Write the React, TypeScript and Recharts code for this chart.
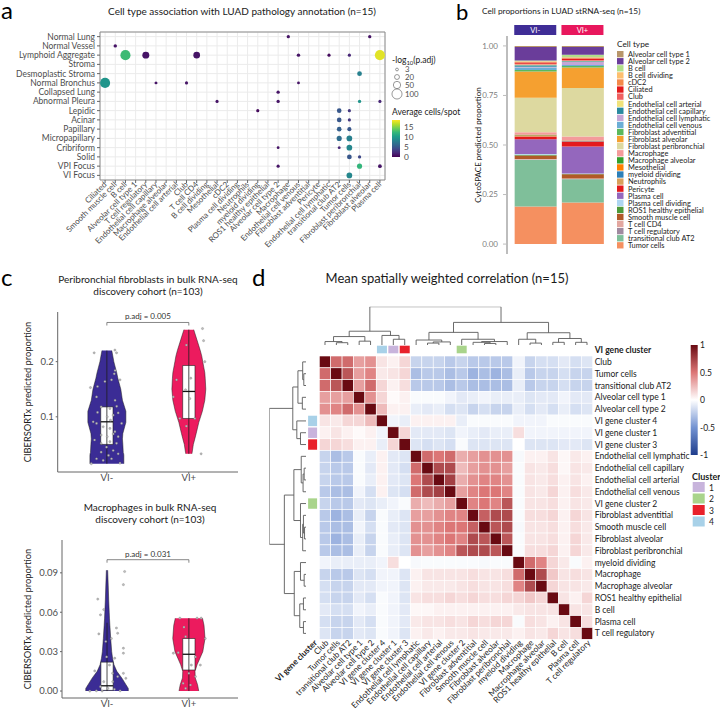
import React from "react";
import {
  ScatterChart, Scatter, XAxis, YAxis, ZAxis, CartesianGrid, Cell,
  ReferenceArea, ReferenceLine, BarChart, Bar, ComposedChart, Area,
} from "recharts";

const FONT = "Lato, 'Open Sans', sans-serif";
const AXIS_TEXT = "#4d4d4d";

const seq = (a: number, b: number) => Array.from({ length: b - a + 1 }, (_, i) => a + i);

function mix(stops: [number, string][], t: number) {
  const v = Math.max(stops[0][0], Math.min(stops[stops.length - 1][0], t));
  let k = 0;
  while (k < stops.length - 2 && v > stops[k + 1][0]) k++;
  const [t0, c0] = stops[k];
  const [t1, c1] = stops[k + 1];
  const f = (v - t0) / (t1 - t0);
  const a = parseInt(c0.slice(1), 16), b = parseInt(c1.slice(1), 16);
  const ch = (s: number) => Math.round(((a >> s) & 255) * (1 - f) + ((b >> s) & 255) * f);
  return `rgb(${ch(16)},${ch(8)},${ch(0)})`;
}
const VIRIDIS: [number, string][] = ["#440154", "#482878", "#3e4989", "#31688e", "#26828e", "#1f9e89", "#35b779", "#6ece58", "#b5de2b", "#fde725"]
  .map((c, i, arr) => [i / (arr.length - 1), c] as [number, string]);
const viridis = (t: number) => mix(VIRIDIS, t);
const CORR_STOPS: [number, string][] = [[-1, "#1f3d8c"], [-0.5, "#7393d2"], [0, "#ffffff"], [0.5, "#dc7676"], [1, "#690a12"]];
const corrColor = (v: number) => mix(CORR_STOPS, v);

// ---------- a: pathology annotation bubbles ----------
const A_ROWS = ["Normal Lung", "Normal Vessel", "Lymphoid Aggregate", "Stroma", "Desmoplastic Stroma", "Normal Bronchus",
  "Collapsed Lung", "Abnormal Pleura", "Lepidic", "Acinar", "Papillary", "Micropapillary", "Cribriform", "Solid", "VPI Focus", "VI Focus"];
const A_COLS = ["Ciliated", "Smooth muscle cell", "B cell", "Alveolar cell type 1", "T cell regulatory", "Endothelial cell capillary",
  "Macrophage alveolar", "Endothelial cell arterial", "Club", "T cell CD4", "B cell dividing", "Mesothelial", "cDC2",
  "Plasma cell dividing", "Neutrophils", "myeloid dividing", "ROS1  healthy epithelial", "Alveolar cell type 2", "Macrophage",
  "Endothelial cell venous", "Fibroblast adventitial", "Pericyte", "Endothelial cell lymphatic", "transitional club AT2",
  "Tumor cells", "Fibroblast peribronchial", "Fibroblast alveolar", "Plasma cell"];
// [annotation, cell type, -log10(p.adj), average cells/spot]
const A_POINTS: [string, string, number, number][] = [
  ["Normal Lung", "Macrophage", 6, 1], ["Normal Lung", "Fibroblast alveolar", 6, 1],
  ["Normal Vessel", "Smooth muscle cell", 7, 1],
  ["Lymphoid Aggregate", "B cell", 100, 12.5], ["Lymphoid Aggregate", "T cell regulatory", 45, 1],
  ["Lymphoid Aggregate", "T cell CD4", 40, 1], ["Lymphoid Aggregate", "Endothelial cell venous", 7, 1],
  ["Lymphoid Aggregate", "Endothelial cell lymphatic", 5, 0.5], ["Lymphoid Aggregate", "Tumor cells", 5, 2],
  ["Lymphoid Aggregate", "Plasma cell", 100, 17.5],
  ["Desmoplastic Stroma", "Fibroblast peribronchial", 18, 8],
  ["Normal Bronchus", "Ciliated", 100, 9.5], ["Normal Bronchus", "Endothelial cell capillary", 4, 1],
  ["Normal Bronchus", "Club", 5, 1], ["Normal Bronchus", "Endothelial cell venous", 3, 1],
  ["Collapsed Lung", "Alveolar cell type 2", 6, 1],
  ["Abnormal Pleura", "Mesothelial", 5, 1], ["Abnormal Pleura", "Alveolar cell type 2", 6, 1],
  ["Abnormal Pleura", "Fibroblast peribronchial", 6, 9.5], ["Abnormal Pleura", "Plasma cell", 5, 2],
  ["Lepidic", "myeloid dividing", 5, 0.5], ["Lepidic", "transitional club AT2", 17, 5], ["Lepidic", "Tumor cells", 5, 3],
  ["Acinar", "transitional club AT2", 17, 5], ["Acinar", "Tumor cells", 5, 3],
  ["Papillary", "transitional club AT2", 17, 5.5], ["Papillary", "Tumor cells", 12, 5],
  ["Micropapillary", "transitional club AT2", 22, 6.5], ["Micropapillary", "Tumor cells", 28, 8],
  ["Cribriform", "Alveolar cell type 2", 3, 1], ["Cribriform", "transitional club AT2", 4, 2], ["Cribriform", "Tumor cells", 28, 8.5],
  ["Solid", "Tumor cells", 18, 5], ["Solid", "Fibroblast peribronchial", 6, 4],
  ["VPI Focus", "Alveolar cell type 2", 5, 1], ["VPI Focus", "Fibroblast peribronchial", 22, 12], ["VPI Focus", "Plasma cell", 9, 1],
  ["VI Focus", "Tumor cells", 28, 8.5],
];
const A_SIZE_KEYS = [3, 20, 50, 100];
const A_COLOR_KEYS = [0, 5, 10, 15];
const A_AVG_MAX = 18.3;
const A_AREA: [number, number] = [4, 80];

// ---------- b: stacked proportions ----------
const B_GROUPS = ["VI-", "VI+"];
const B_STRIP = ["#3f2d96", "#e8175d"];
const B_TYPES = ["Alveolar cell type 1", "Alveolar cell type 2", "B cell", "B cell dividing", "cDC2", "Ciliated", "Club",
  "Endothelial cell arterial", "Endothelial cell capillary", "Endothelial cell lymphatic", "Endothelial cell venous",
  "Fibroblast adventitial", "Fibroblast alveolar", "Fibroblast peribronchial", "Macrophage", "Macrophage alveolar",
  "Mesothelial", "myeloid dividing", "Neutrophils", "Pericyte", "Plasma cell", "Plasma cell dividing",
  "ROS1  healthy epithelial", "Smooth muscle cell", "T cell CD4", "T cell regulatory", "transitional club AT2", "Tumor cells"];
const B_COLORS = ["#b8966a", "#6a3d9a", "#b2df8a", "#fdbf6f", "#f4894a", "#e31a1c", "#f06060", "#f0e27a", "#2a8aa0",
  "#c5a6d6", "#6baed6", "#5cb85c", "#f5a030", "#ddd9a0", "#f49b9b", "#33a02c", "#ff7f00", "#2c7fb8", "#d9a05b",
  "#e41a1c", "#9467bd", "#aed6f1", "#4d9a3a", "#b15928", "#e3a7a0", "#a08aa0", "#7fbf9a", "#f59060"];
const B_VI_NEG = [0.005, 0.068, 0.005, 0.002, 0.004, 0.006, 0.004, 0.003, 0.008, 0.004, 0.012, 0.008, 0.133, 0.174,
  0.012, 0.003, 0.002, 0.002, 0.002, 0.014, 0.075, 0.003, 0.004, 0.018, 0.002, 0.002, 0.235, 0.19];
const B_VI_POS = [0.005, 0.04, 0.012, 0.002, 0.004, 0.008, 0.004, 0.002, 0.004, 0.015, 0.005, 0.008, 0.104, 0.244,
  0.02, 0.002, 0.001, 0.001, 0.001, 0.025, 0.137, 0.002, 0.002, 0.021, 0.002, 0.002, 0.117, 0.21];
const B_TICKS = [0, 0.25, 0.5, 0.75, 1];

// ---------- c: violins ----------
const C_GROUPS = ["VI-", "VI+"];
const C_COLORS = ["#3b2c95", "#ec1b5e"];
const PERI_LEVELS = [0.015, 0.02, 0.03, 0.033, 0.035, 0.05, 0.06, 0.07, 0.09, 0.11, 0.13, 0.15, 0.17, 0.18, 0.2, 0.21, 0.22, 0.24, 0.258];
const PERI_NEG = [0.207, 0.207, 0.207, 0.205, 0.2, 0.195, 0.19, 0.195, 0.232, 0.232, 0.19, 0.17, 0.134, 0.12, 0.085, 0.073, 0.06, null, null];
const PERI_POS = [null, null, null, 0.037, 0.04, 0.055, 0.073, 0.09, 0.122, 0.165, 0.195, 0.207, 0.2, 0.195, 0.17, 0.158, 0.14, 0.098, 0.06];
const PERI_STATS = [
  { lo: 0.015, q1: 0.05, med: 0.091, q3: 0.118, hi: 0.22 },
  { lo: 0.033, q1: 0.097, med: 0.146, q3: 0.193, hi: 0.258 },
];
const PERI_POINTS: [number, number][] = [
  [0.845, 0.216], [1.098, 0.221], [1.118, 0.216], [0.8, 0.153], [0.886, 0.155], [1.1, 0.184], [1.09, 0.178], [0.976, 0.164],
  [1.057, 0.167], [0.874, 0.136], [1.1, 0.13], [1.037, 0.115], [1.12, 0.119], [1.077, 0.103], [1.004, 0.1], [1.044, 0.094],
  [1.138, 0.107], [0.886, 0.108], [0.955, 0.082], [1.037, 0.079], [1.098, 0.073], [1.077, 0.069], [1.004, 0.064], [0.93, 0.067],
  [1.138, 0.064], [0.85, 0.058], [1.037, 0.055], [1.118, 0.052], [0.996, 0.045], [1.077, 0.039], [0.93, 0.036], [1.138, 0.033],
  [1.02, 0.03], [0.81, 0.015], [1.16, 0.016], [0.955, 0.021], [0.874, 0.088], [0.93, 0.118], [0.833, 0.091], [1.18, 0.088],
  [0.93, 0.052], [1.057, 0.024], [0.874, 0.024], [1.16, 0.167],
  [2.167, 0.26], [2.18, 0.238], [1.97, 0.23], [2.195, 0.2], [2.024, 0.17], [1.81, 0.136], [1.96, 0.149], [2.012, 0.133],
  [1.89, 0.097], [1.97, 0.083], [2.073, 0.097], [2.15, 0.033], [1.85, 0.167],
];
const MAC_LEVELS = [0, 0.002, 0.005, 0.01, 0.015, 0.02, 0.025, 0.03, 0.04, 0.05, 0.0555, 0.06, 0.07, 0.08, 0.092];
const MAC_NEG = [0.26, 0.26, 0.23, 0.18, 0.12, 0.085, 0.068, 0.057, 0.045, 0.035, 0.03, 0.027, 0.02, 0.015, 0.008];
const MAC_POS = [0.12, 0.115, 0.105, 0.078, 0.075, 0.1, 0.135, 0.17, 0.197, 0.185, 0.166, null, null, null, null];
const MAC_STATS = [
  { lo: 0, q1: 0.0005, med: 0.004, q3: 0.022, hi: 0.052 },
  { lo: 0, q1: 0.016, med: 0.028, q3: 0.04, hi: 0.0555 },
];
const MAC_POINTS: [number, number][] = [
  [1.215, 0.091], [1.2, 0.081], [0.887, 0.07], [0.96, 0.062], [0.92, 0.058], [0.9, 0.0435], [1.115, 0.048], [1.13, 0.044],
  [1.053, 0.04], [0.985, 0.0377], [1.2, 0.0326], [1.2, 0.0288], [1.094, 0.025], [0.85, 0.0153], [1.03, 0.0198], [1.068, 0.0135],
  [1.2, 0.0135], [1.13, 0.011], [0.96, 0.0071], [1.23, 0.0097], [0.92, 0.0033], [1.01, 0.002], [0.87, 0.0002], [1.16, 0.0002],
  [1.09, 0.0013], [0.94, 0], [1.07, 0.0071], [0.79, 0], [0.995, 0.026],
  [1.89, 0.0555], [2.1, 0.0555], [2.15, 0.0555], [2.2, 0.04], [1.94, 0.0486], [1.96, 0.0415], [1.81, 0.0288], [1.87, 0.0292],
  [2.08, 0.026], [2.03, 0.0198], [2.14, 0.0198], [2.0, 0.0135], [2.08, 0.011], [1.93, 0.0059], [2.02, 0.0046], [1.96, 0.002],
];

// ---------- d: correlation heatmap ----------
const D_NAMES = ["Club", "Tumor cells", "transitional club AT2", "Alveolar cell type 1", "Alveolar cell type 2", "VI gene cluster 4",
  "VI gene cluster 1", "VI gene cluster 3", "Endothelial cell lymphatic", "Endothelial cell capillary", "Endothelial cell arterial",
  "Endothelial cell venous", "VI gene cluster 2", "Fibroblast adventitial", "Smooth muscle cell", "Fibroblast alveolar",
  "Fibroblast peribronchial", "myeloid dividing", "Macrophage", "Macrophage alveolar", "ROS1  healthy epithelial", "B cell",
  "Plasma cell", "T cell regulatory"];
// lower triangle, row i holds columns 0..i
const D_LOWER = [
  [1],
  [0.55, 1],
  [0.55, 0.65, 1],
  [0.35, 0.35, 0.35, 1],
  [0.4, 0.45, 0.55, 0.4, 1],
  [0.1, 0.08, 0.15, 0.15, 0.25, 1],
  [0.05, 0.1, 0.05, 0.02, 0.05, -0.05, 1],
  [0.15, 0.15, 0.12, 0.05, 0.05, -0.08, 0.15, 1],
  [-0.2, -0.3, -0.25, -0.02, -0.08, 0.05, -0.1, -0.12, 1],
  [-0.2, -0.25, -0.25, -0.02, -0.1, 0.05, -0.1, -0.15, 0.55, 1],
  [-0.2, -0.25, -0.25, -0.02, -0.08, 0.05, -0.1, -0.12, 0.5, 0.7, 1],
  [-0.25, -0.3, -0.3, -0.05, -0.15, 0.05, -0.12, -0.15, 0.55, 0.7, 0.75, 1],
  [-0.2, -0.25, -0.25, -0.1, -0.12, -0.08, -0.05, -0.02, 0.3, 0.25, 0.3, 0.35, 1],
  [-0.25, -0.35, -0.3, -0.08, -0.2, -0.02, -0.08, -0.12, 0.35, 0.35, 0.4, 0.45, 0.45, 1],
  [-0.25, -0.3, -0.3, -0.05, -0.15, -0.02, -0.1, -0.12, 0.4, 0.4, 0.45, 0.5, 0.5, 0.6, 1],
  [-0.25, -0.35, -0.3, -0.08, -0.2, -0.02, -0.08, -0.12, 0.4, 0.4, 0.45, 0.5, 0.45, 0.7, 0.65, 1],
  [-0.25, -0.3, -0.3, -0.08, -0.2, -0.02, -0.08, -0.12, 0.4, 0.35, 0.4, 0.45, 0.65, 0.7, 0.7, 0.65, 1],
  [-0.05, -0.08, -0.08, -0.08, -0.08, -0.05, 0.12, 0, -0.03, -0.02, -0.02, -0.02, -0.02, -0.02, -0.03, -0.02, -0.02, 1],
  [-0.2, -0.25, -0.25, -0.12, -0.15, -0.05, -0.05, -0.12, 0.05, 0.1, 0.1, 0.1, 0.1, 0.12, 0.1, 0.1, 0.12, 0.55, 1],
  [-0.15, -0.2, -0.2, -0.1, -0.1, -0.05, -0.05, -0.12, 0.05, 0.08, 0.08, 0.08, 0.1, 0.12, 0.1, 0.1, 0.12, 0.45, 0.7, 1],
  [-0.15, -0.2, -0.2, -0.1, -0.15, -0.02, -0.05, -0.12, 0.1, 0.12, 0.12, 0.15, 0.12, 0.15, 0.12, 0.12, 0.15, 0.15, 0.2, 0.15, 1],
  [-0.1, -0.15, -0.15, -0.05, -0.08, -0.02, -0.05, -0.1, 0.03, 0.03, 0.05, 0.05, 0.05, 0.05, 0.05, 0.05, 0.05, 0.08, 0.1, 0.1, 0.1, 1],
  [-0.15, -0.2, -0.2, -0.1, -0.15, -0.02, -0.05, -0.1, 0.08, 0.1, 0.1, 0.12, 0.1, 0.15, 0.12, 0.15, 0.15, -0.02, 0.12, 0.1, 0.05, 0.1, 1],
  [-0.12, -0.2, -0.2, -0.1, -0.12, -0.02, -0.05, -0.12, 0.05, 0.08, 0.05, 0.08, 0.08, 0.1, 0.08, 0.08, 0.08, 0.05, 0.1, 0.08, 0.15, 0.1, 0.12, 1],
];
// [node, node, height]; leaves 0-23, merge k makes node 24+k
const D_MERGES: [number, number, number][] = [
  [1, 2, 0.06], [0, 24, 0.09], [3, 4, 0.1], [25, 26, 0.22],
  [6, 7, 0.15], [5, 28, 0.25], [27, 29, 0.36],
  [9, 10, 0.05], [31, 11, 0.08], [8, 32, 0.13],
  [14, 15, 0.04], [13, 34, 0.07], [35, 16, 0.09], [12, 36, 0.15], [33, 37, 0.33],
  [18, 19, 0.05], [17, 39, 0.15],
  [20, 21, 0.07], [22, 23, 0.07], [41, 42, 0.17], [40, 43, 0.32],
  [38, 44, 0.59], [30, 45, 1],
];
const D_CLUSTER_LEAF = [6, 12, 7, 5];
const CLUSTER_COLORS = ["#c8b4dc", "#a9d48b", "#e8212b", "#a8d1e8"];
const D_BAR_TICKS = [1, 0.5, 0, -0.5, -1];

// ---------- derived tables ----------
const aData = A_POINTS.map(([r, c, p, avg]) => ({ x: A_COLS.indexOf(c), y: A_ROWS.indexOf(r), p, avg }));
const bData = B_GROUPS.map((group, gi) => {
  const row: Record<string, number | string> = { group };
  const vals = gi === 0 ? B_VI_NEG : B_VI_POS;
  B_TYPES.forEach((_, i) => { row["k" + i] = vals[i]; });
  return row;
});
const corrAt = (i: number, j: number) => (i >= j ? D_LOWER[i][j] : D_LOWER[j][i]);
const heatData = seq(0, 23).flatMap((i) => seq(0, 23).map((j) => ({ x: j, y: i, v: corrAt(i, j) })));
const annotData = D_CLUSTER_LEAF.flatMap((leaf, k) => [
  { x: -1, y: leaf, k, side: "left" },
  { x: leaf, y: -1, k, side: "top" },
]);
const nodePos: number[] = seq(0, 23);
const nodeH: number[] = seq(0, 23).map(() => 0);
D_MERGES.forEach(([a, b, h]) => { nodePos.push((nodePos[a] + nodePos[b]) / 2); nodeH.push(h); });
const dendroLinks = D_MERGES.map(([a, b, h]) => [
  { pos: nodePos[a], h: nodeH[a] }, { pos: nodePos[a], h }, { pos: nodePos[b], h }, { pos: nodePos[b], h: nodeH[b] },
]);

const sizeR = (p: number) => Math.sqrt((A_AREA[0] + (A_AREA[1] - A_AREA[0]) * p / 100) / Math.PI);

const rotTick = (x: number, y: number, text: string, fs: number, fill: string, bold = false) => (
  <g transform={`translate(${x},${y}) rotate(-45)`}>
    <text x={0} y={0} dy={fs * 0.35} textAnchor="end" fontSize={fs} fill={fill} fontWeight={bold ? 700 : 400}>{text}</text>
  </g>
);

function BubblePanel() {
  return (
    <ScatterChart width={400} height={280} margin={{ top: 32, right: 15, bottom: 5, left: 0 }}>
      <CartesianGrid stroke="#ebebeb" />
      <XAxis type="number" dataKey="x" domain={[-0.5, 27.5]} ticks={seq(0, 27)} interval={0} allowDataOverflow
        height={95} axisLine={false} tickSize={3} tickMargin={0} tickLine={{ stroke: "#666" }}
        tick={(p: any) => rotTick(p.x, p.y, A_COLS[p.payload.value], 8, AXIS_TEXT)} />
      <YAxis type="number" dataKey="y" domain={[-0.5, 15.5]} reversed ticks={seq(0, 15)} interval={0} allowDataOverflow
        width={100} axisLine={false} tickSize={3} tickMargin={2} tickLine={{ stroke: "#666" }}
        tick={(p: any) => (
          <text x={p.x} y={p.y} dy={3} textAnchor="end" fontSize={8.5} fill={AXIS_TEXT}>{A_ROWS[p.payload.value]}</text>
        )} />
      <ZAxis type="number" dataKey="p" domain={[0, 100]} range={A_AREA} />
      <ReferenceArea x1={-0.5} x2={27.5} y1={-0.5} y2={15.5} fill="none" stroke="#8c8c8c" />
      <Scatter data={aData} isAnimationActive={false}>
        {aData.map((d, i) => <Cell key={i} fill={viridis(d.avg / A_AVG_MAX)} />)}
      </Scatter>
    </ScatterChart>
  );
}

function StackPanel() {
  const order = seq(0, B_TYPES.length - 1).reverse();
  const pad = { left: 4.65, right: 4.65 };
  return (
    <BarChart width={300} height={280} data={bData} margin={{ top: 24, right: 109.3, bottom: 26, left: 47 }} barSize={42}>
      <XAxis dataKey="group" hide padding={pad} />
      <XAxis xAxisId="strip" dataKey="group" orientation="top" padding={pad} height={12} interval={0}
        axisLine={false} tickLine={false} tickSize={0} tickMargin={0}
        tick={(p: any) => (
          <g>
            <rect x={p.x - 21} y={p.y - 11} width={42} height={10} fill={B_STRIP[p.index]} />
            <text x={p.x} y={p.y - 3} textAnchor="middle" fill="#fff" fontSize={7.5}>{p.payload.value}</text>
          </g>
        )} />
      <YAxis domain={[-0.05, 1.05]} ticks={B_TICKS} allowDataOverflow width={40} tickSize={4} tickMargin={5}
        tickFormatter={(v: number) => v.toFixed(2)} tick={{ fontSize: 8, fill: "#808080" }}
        axisLine={{ stroke: "#bdbdbd", strokeWidth: 2 }} tickLine={{ stroke: "#bdbdbd" }} />
      {order.map((i) => (
        <Bar key={i} dataKey={"k" + i} stackId="s" fill={B_COLORS[i]} isAnimationActive={false} />
      ))}
    </BarChart>
  );
}

type Stat = { lo: number; q1: number; med: number; q3: number; hi: number };
const BOX_HW = 0.075;

function ViolinPanel(props: {
  height: number; marginTop: number; yAxisWidth: number; marginLeft: number; xAxisHeight: number;
  levels: number[]; neg: (number | null)[]; pos: (number | null)[]; stats: Stat[]; points: [number, number][];
  yDomain: [number, number]; yTicks: number[]; fmt: (v: number) => string; xDomain: [number, number];
  bracketY: number; bracketTick: number; pLabel: string;
}) {
  // a missing side is kept as [null, null] so both the outline and its base break there
  const span = (c: number, w: number | null) => (w == null ? [null, null] : [c - w, c + w]);
  const rows = props.levels.map((y, i) => ({ y, neg: span(1, props.neg[i]), pos: span(2, props.pos[i]) }));
  const pts = props.points.map(([x, y]) => ({ x, y }));
  const bY = props.bracketY, bT = props.bracketTick;
  return (
    <ComposedChart layout="vertical" width={240} height={props.height} data={rows}
      margin={{ top: props.marginTop, right: 2, bottom: 0, left: props.marginLeft }}>
      <XAxis type="number" dataKey="x" domain={props.xDomain} ticks={[1, 2]} allowDataOverflow height={props.xAxisHeight}
        tickFormatter={(v: number) => C_GROUPS[v - 1]} tick={{ fontSize: 9.5, fill: AXIS_TEXT }}
        axisLine={{ stroke: "#666" }} tickLine={{ stroke: "#666" }} tickSize={2} tickMargin={0} />
      <YAxis type="number" dataKey="y" domain={props.yDomain} reversed ticks={props.yTicks} allowDataOverflow width={props.yAxisWidth}
        tickFormatter={props.fmt} tick={{ fontSize: 9.5, fill: AXIS_TEXT }}
        axisLine={{ stroke: "#666" }} tickLine={{ stroke: "#666" }} tickSize={2} tickMargin={2} />
      <Area dataKey="neg" fill={C_COLORS[0]} fillOpacity={1} stroke="#1e1e1e" strokeWidth={0.5} dot={false} activeDot={false} isAnimationActive={false} />
      <Area dataKey="pos" fill={C_COLORS[1]} fillOpacity={1} stroke="#1e1e1e" strokeWidth={0.5} dot={false} activeDot={false} isAnimationActive={false} />
      {props.stats.map((s, i) => (
        <ReferenceLine key={"w" + i} segment={[{ x: i + 1, y: s.lo }, { x: i + 1, y: s.hi }]} stroke="#1e1e1e" strokeWidth={0.8} />
      ))}
      {props.stats.map((s, i) => (
        <ReferenceArea key={"b" + i} x1={i + 1 - BOX_HW} x2={i + 1 + BOX_HW} y1={s.q1} y2={s.q3}
          fill="#ffffff" fillOpacity={1} stroke="#1e1e1e" strokeWidth={0.6} />
      ))}
      {props.stats.map((s, i) => (
        <ReferenceLine key={"m" + i} segment={[{ x: i + 1 - BOX_HW, y: s.med }, { x: i + 1 + BOX_HW, y: s.med }]}
          stroke="#111" strokeWidth={1.3} />
      ))}
      <Scatter data={pts} isAnimationActive={false}
        shape={(p: any) => <circle cx={p.cx} cy={p.cy} r={1.1} fill="#bdbdbd" stroke="#6e6e6e" strokeWidth={0.3} />} />
      <ReferenceLine segment={[{ x: 1, y: bY }, { x: 2, y: bY }]} stroke="#555" strokeWidth={0.7}
        label={{ value: props.pLabel, position: "top", fontSize: 8, fill: "#333", offset: 3 }} />
      <ReferenceLine segment={[{ x: 1, y: bY }, { x: 1, y: bY - bT }]} stroke="#555" strokeWidth={0.7} />
      <ReferenceLine segment={[{ x: 2, y: bY }, { x: 2, y: bY - bT }]} stroke="#555" strokeWidth={0.7} />
    </ComposedChart>
  );
}

// heatmap geometry (chart coordinates inside a 490x430 box at 230,280)
const HM = { w: 490, h: 430, left: 77.9, right: 127.3, top: 64.2, bottom: 70.7 };
const CELL_W = (HM.w - HM.left - HM.right) / 25;
const CELL_H = (HM.h - HM.top - HM.bottom) / 25;

function HeatPanel() {
  return (
    <ScatterChart width={HM.w} height={HM.h} margin={{ top: HM.top, right: HM.right - 100, bottom: HM.bottom - 70, left: HM.left }}>
      <XAxis type="number" dataKey="x" domain={[-1.5, 23.5]} ticks={seq(-1, 23)} interval={0} allowDataOverflow height={70}
        axisLine={false} tickLine={false} tickSize={2} tickMargin={0}
        tick={(p: any) => rotTick(p.x + 2, p.y, p.payload.value === -1 ? "VI gene cluster" : D_NAMES[p.payload.value], 8.3, "#222", p.payload.value === -1)} />
      <YAxis type="number" dataKey="y" orientation="right" domain={[-1.5, 23.5]} reversed ticks={seq(-1, 23)} interval={0}
        allowDataOverflow width={100} axisLine={false} tickLine={false} tickSize={2} tickMargin={0}
        tick={(p: any) => (
          <text x={p.x} y={p.y} dy={3} fontSize={8.5} fill="#222" textAnchor="start" fontWeight={p.payload.value === -1 ? 700 : 400}>
            {p.payload.value === -1 ? "VI gene cluster" : D_NAMES[p.payload.value]}
          </text>
        )} />
      <Scatter data={heatData} isAnimationActive={false}
        shape={(p: any) => (
          <rect x={p.cx - CELL_W / 2} y={p.cy - CELL_H / 2} width={CELL_W} height={CELL_H}
            fill={corrColor(p.payload.v)} stroke="#ffffff" strokeWidth={0.6} />
        )} />
      <Scatter data={annotData} isAnimationActive={false}
        shape={(p: any) => {
          const left = p.payload.side === "left";
          const w = left ? 9 : CELL_W - 1.4;
          const h = left ? CELL_H - 1.4 : 7.6;
          const cx = left ? p.cx - 1 : p.cx;
          const cy = left ? p.cy : p.cy - 0.6;
          return <rect x={cx - w / 2} y={cy - h / 2} width={w} height={h} fill={CLUSTER_COLORS[p.payload.k]} />;
        }} />
    </ScatterChart>
  );
}

function TopDendro() {
  return (
    <ScatterChart width={HM.w} height={70} margin={{ top: 26.7, right: HM.right, bottom: 5, left: HM.left }}>
      <XAxis type="number" dataKey="pos" domain={[-1.5, 23.5]} hide allowDataOverflow />
      <YAxis type="number" dataKey="h" domain={[0, 1]} hide allowDataOverflow />
      {dendroLinks.map((l, i) => (
        <Scatter key={i} data={l} line={{ stroke: "#5a5a5a", strokeWidth: 0.9 }} shape={() => <g />} isAnimationActive={false} />
      ))}
    </ScatterChart>
  );
}

function LeftDendro() {
  return (
    <ScatterChart width={90} height={HM.h} margin={{ top: HM.top, right: 14, bottom: HM.bottom, left: 39.3 }}>
      <XAxis type="number" dataKey="h" domain={[0, 1]} reversed hide allowDataOverflow />
      <YAxis type="number" dataKey="pos" domain={[-1.5, 23.5]} reversed hide allowDataOverflow />
      {dendroLinks.map((l, i) => (
        <Scatter key={i} data={l} line={{ stroke: "#5a5a5a", strokeWidth: 0.9 }} shape={() => <g />} isAnimationActive={false} />
      ))}
    </ScatterChart>
  );
}

const abs = (left: number, top: number): React.CSSProperties => ({ position: "absolute", left, top });

export default function App() {
  const aBar = { x: 392, y: 120, w: 8, h: 37 };
  const dBar = { x: 690.7, y: 345, w: 7, h: 110 };
  const sizeY = [69.5, 77, 85, 94];
  return (
    <div style={{ position: "absolute", left: 0, top: 0, width: 720, height: 710, background: "#fff", fontFamily: FONT, overflow: "hidden" }}>
      <div style={abs(0, 0)}><BubblePanel /></div>
      <div style={abs(420, 0)}><StackPanel /></div>
      <div style={abs(0, 280)}>
        <ViolinPanel height={215} marginTop={32} yAxisWidth={22} marginLeft={35.7} xAxisHeight={23}
          levels={PERI_LEVELS} neg={PERI_NEG} pos={PERI_POS} stats={PERI_STATS} points={PERI_POINTS}
          yDomain={[0, 0.29]} yTicks={[0.1, 0.2]} fmt={(v) => String(v)} xDomain={[0.4, 2.6]}
          bracketY={0.271} bracketTick={0.0055} pLabel="p.adj = 0.005" />
      </div>
      <div style={abs(0, 500)}>
        <ViolinPanel height={210} marginTop={40} yAxisWidth={26} marginLeft={36} xAxisHeight={12}
          levels={MAC_LEVELS} neg={MAC_NEG} pos={MAC_POS} stats={MAC_STATS} points={MAC_POINTS}
          yDomain={[-0.0053, 0.115]} yTicks={[0, 0.03, 0.06, 0.09]} fmt={(v) => v.toFixed(2)} xDomain={[0.45, 2.6]}
          bracketY={0.1} bracketTick={0.0023} pLabel="p.adj = 0.031" />
      </div>
      <div style={abs(230, 280)}><HeatPanel /></div>
      <div style={abs(230, 280)}><TopDendro /></div>
      <div style={abs(230, 280)}><LeftDendro /></div>

      <svg width={720} height={710} style={{ position: "absolute", left: 0, top: 0, pointerEvents: "none" }}>
        <defs>
          <linearGradient id="vir" x1="0" y1="1" x2="0" y2="0">
            {VIRIDIS.map(([t, c], i) => <stop key={i} offset={t} stopColor={c} />)}
          </linearGradient>
          <linearGradient id="rdbu" x1="0" y1="1" x2="0" y2="0">
            {CORR_STOPS.map(([t, c], i) => <stop key={i} offset={(t + 1) / 2} stopColor={c} />)}
          </linearGradient>
        </defs>
        {/* panel letters and titles */}
        <text x={1} y={19} fontSize={24}>a</text>
        <text x={242} y={15} fontSize={10} textAnchor="middle" fill="#1a1a1a">Cell type association with LUAD pathology annotation (n=15)</text>
        <text x={456} y={20} fontSize={22}>b</text>
        <text x={482} y={14} fontSize={8.3} fill="#1a1a1a">Cell proportions in LUAD stRNA-seq (n=15)</text>
        <text x={1} y={286} fontSize={24}>c</text>
        <text x={148} y={283} fontSize={10} textAnchor="middle" fill="#1a1a1a">Peribronchial fibroblasts in bulk RNA-seq</text>
        <text x={148} y={295} fontSize={10} textAnchor="middle" fill="#1a1a1a">discovery cohort (n=103)</text>
        <text x={150} y={511} fontSize={10} textAnchor="middle" fill="#1a1a1a">Macrophages in bulk RNA-seq</text>
        <text x={150} y={523} fontSize={10} textAnchor="middle" fill="#1a1a1a">discovery cohort (n=103)</text>
        <text x={252} y={286} fontSize={24}>d</text>
        <text x={447} y={283} fontSize={13} textAnchor="middle" fill="#1a1a1a">Mean spatially weighted correlation (n=15)</text>

        {/* axis titles */}
        <text transform="translate(31,392) rotate(-90)" fontSize={9.3} textAnchor="middle" fill="#1a1a1a">CIBERSORTx predicted proportion</text>
        <text transform="translate(31,619) rotate(-90)" fontSize={9.3} textAnchor="middle" fill="#1a1a1a">CIBERSORTx predicted proportion</text>
        <text transform="translate(481,145) rotate(-90)" fontSize={8} textAnchor="middle" fill="#1a1a1a">CytoSPACE predicted proportion</text>

        {/* a legends */}
        <text x={392} y={63} fontSize={8.5} fill="#1a1a1a">-log<tspan fontSize={6} dy={2}>10</tspan><tspan dy={-2}>(p.adj)</tspan></text>
        {A_SIZE_KEYS.map((p, i) => (
          <g key={p}>
            <circle cx={397} cy={sizeY[i]} r={sizeR(p)} fill="none" stroke="#555" strokeWidth={0.6} />
            <text x={405} y={sizeY[i] + 2.7} fontSize={7.8} fill={AXIS_TEXT}>{p}</text>
          </g>
        ))}
        <text x={392} y={115} fontSize={8.5} fill="#1a1a1a">Average cells/spot</text>
        <rect x={aBar.x} y={aBar.y} width={aBar.w} height={aBar.h} fill="url(#vir)" />
        {A_COLOR_KEYS.map((v) => (
          <text key={v} x={404} y={aBar.y + aBar.h - (v / A_AVG_MAX) * aBar.h + 3} fontSize={8.3} fill={AXIS_TEXT}>{v}</text>
        ))}

        {/* b legend */}
        <text x={617} y={47} fontSize={8.3} fill="#1a1a1a">Cell type</text>
        {B_TYPES.map((t, i) => (
          <g key={t}>
            <rect x={617} y={51 + i * 7.08} width={6.5} height={6.3} fill={B_COLORS[i]} />
            <text x={628} y={57 + i * 7.08} fontSize={7.4} fill="#1a1a1a">{t}</text>
          </g>
        ))}

        {/* d colour bar */}
        <rect x={dBar.x} y={dBar.y} width={dBar.w} height={dBar.h} fill="url(#rdbu)" />
        {D_BAR_TICKS.map((v) => (
          <text key={v} x={700} y={dBar.y + (1 - v) / 2 * dBar.h + 3} fontSize={8.5} fill="#1a1a1a">{v}</text>
        ))}
        <text x={692} y={480} fontSize={9} fontWeight={700} fill="#1a1a1a">Cluster</text>
        {CLUSTER_COLORS.map((c, i) => (
          <g key={c}>
            <rect x={692.7} y={482 + i * 11.5} width={12} height={10} fill={c} />
            <text x={709} y={490.5 + i * 11.5} fontSize={8.5} fill="#1a1a1a">{i + 1}</text>
          </g>
        ))}
      </svg>
    </div>
  );
}
